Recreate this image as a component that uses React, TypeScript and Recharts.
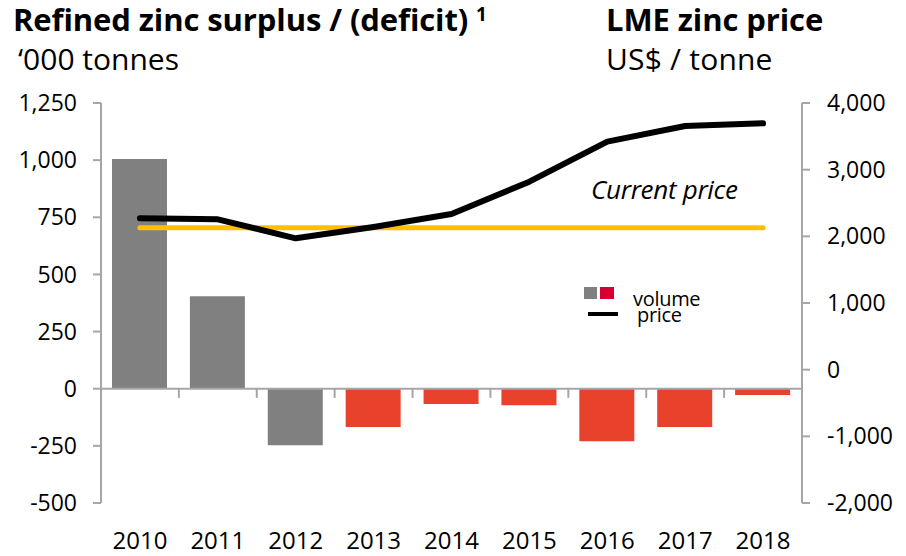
import React from 'react'
import {
  ComposedChart,
  Bar,
  Line,
  XAxis,
  YAxis,
  Cell,
  ReferenceLine,
} from 'recharts'

const years = ['2010', '2011', '2012', '2013', '2014', '2015', '2016', '2017', '2018']
// refined zinc surplus / (deficit), '000 tonnes
const surplus = [1005, 405, -247, -168, -67, -72, -230, -168, -28]
// LME zinc price, US$ / tonne
const price = [2270, 2255, 1970, 2140, 2335, 2820, 3420, 3655, 3695]
const currentPrice = 2130
const firstForecastYear = '2013'

const leftTicks = [-500, -250, 0, 250, 500, 750, 1000, 1250]
const rightTicks = [-2000, -1000, 0, 1000, 2000, 3000, 4000]

const font = '"Open Sans", "Noto Sans", sans-serif'
const axisColor = '#a6a6a6'
const grey = '#808080'
const red = '#e8412c'

const data = years.map((year, i) => ({ year, surplus: surplus[i], price: price[i] }))

const fmt = (v: number) => v.toLocaleString('en-US')

const text = (left: number, top: number, size: number, extra: React.CSSProperties = {}): React.CSSProperties => ({
  position: 'absolute',
  left,
  top,
  fontSize: size,
  lineHeight: `${Math.round(size * 1.25)}px`,
  whiteSpace: 'nowrap',
  ...extra,
})

export default function App() {
  return (
    <div style={{ position: 'absolute', left: 0, top: 0, width: 906, height: 556, fontFamily: font, color: '#000' }}>
      <div style={text(13, 0, 31, { fontWeight: 700, letterSpacing: -0.1 })}>Refined zinc surplus / (deficit)</div>
      <div style={text(476, 2, 19, { fontWeight: 700 })}>1</div>
      <div style={text(18, 40, 30)}>‘000 tonnes</div>
      <div style={text(606, 0, 31, { fontWeight: 700, letterSpacing: -0.1 })}>LME zinc price</div>
      <div style={text(606, 40, 30, { letterSpacing: 0.2 })}>US$ / tonne</div>

      <ComposedChart width={906} height={556} data={data} margin={{ top: 103, right: 0, left: 0, bottom: 0 }}>
        <XAxis
          dataKey="year"
          axisLine={false}
          tickLine={false}
          tickSize={0}
          tickMargin={29}
          height={53}
          interval={0}
          tick={{ fontSize: 24, fill: '#000', fontFamily: font }}
        />
        <YAxis
          yAxisId="left"
          width={101}
          domain={[-500, 1250]}
          ticks={leftTicks}
          interval={0}
          tickFormatter={fmt}
          stroke={axisColor}
          strokeWidth={2}
          tickSize={8}
          tickMargin={16}
          tick={{ fontSize: 23, fill: '#000', fontFamily: font }}
        />
        <YAxis
          yAxisId="right"
          orientation="right"
          width={104}
          domain={[-2000, 4000]}
          ticks={rightTicks}
          interval={0}
          tickFormatter={fmt}
          stroke={axisColor}
          strokeWidth={2}
          tickSize={8}
          tickMargin={17}
          tick={{ fontSize: 23, fill: '#000', fontFamily: font }}
        />
        <Bar yAxisId="left" dataKey="surplus" barSize={55} isAnimationActive={false}>
          {data.map((d) => (
            <Cell key={d.year} fill={d.year < firstForecastYear ? grey : red} />
          ))}
        </Bar>
        <ReferenceLine yAxisId="left" y={0} stroke={axisColor} strokeWidth={2} />
        {years.map((y) => (
          <ReferenceLine
            key={y}
            yAxisId="left"
            position="start"
            segment={[{ x: y, y: 0 }, { x: y, y: -40 }]}
            stroke={axisColor}
            strokeWidth={2}
          />
        ))}
        <ReferenceLine
          yAxisId="right"
          segment={[{ x: years[0], y: currentPrice }, { x: years[years.length - 1], y: currentPrice }]}
          stroke="#ffc000"
          strokeWidth={5}
          strokeLinecap="round"
        />
        <Line
          yAxisId="right"
          dataKey="price"
          stroke="#000"
          strokeWidth={6}
          strokeLinecap="round"
          strokeLinejoin="round"
          dot={false}
          isAnimationActive={false}
        />
      </ComposedChart>

      <div style={text(591, 173, 26, { fontStyle: 'italic', letterSpacing: -0.3 })}>Current price</div>

      <div style={{ position: 'absolute', left: 584, top: 287, width: 13, height: 12, background: grey }} />
      <div style={{ position: 'absolute', left: 600, top: 287, width: 14, height: 12, background: '#d50032' }} />
      <div style={{ position: 'absolute', left: 588, top: 312, width: 30, height: 4, background: '#000' }} />
      <div style={text(633, 289, 20, { letterSpacing: -0.3, lineHeight: '20px' })}>volume</div>
      <div style={text(637, 305, 20, { letterSpacing: -0.3, lineHeight: '20px' })}>price</div>
    </div>
  )
}
